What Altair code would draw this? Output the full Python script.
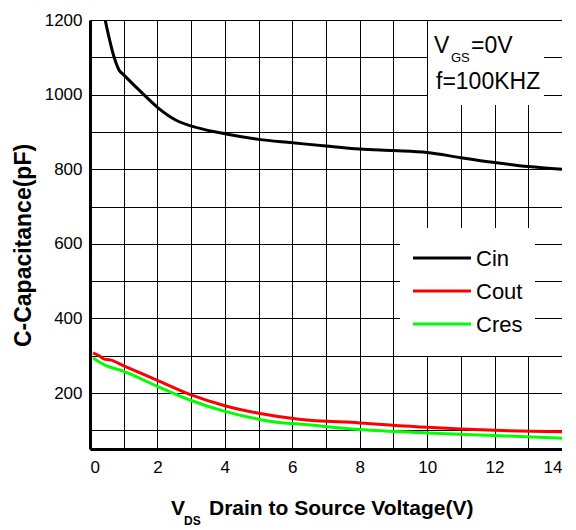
import altair as alt
import pandas as pd

# ---- data ----
cin_x = [0.45, 0.56, 0.71, 0.86, 1.0, 1.55, 2.0, 2.54, 3.23, 4.0, 5.0, 6.0, 7.0, 8.0, 9.0, 10.0, 11.0, 12.0, 13.0, 14.0]
cin_y = [1200, 1155, 1102, 1066, 1053, 1004, 966, 932, 910, 895, 880, 871, 862, 854, 850, 845, 831, 818, 807, 800]

cout_x = [0.09, 0.27, 0.42, 0.6, 1.0, 2.0, 3.0, 4.0, 5.0, 6.2, 8.0, 10.0, 12.0, 14.0]
cout_y = [308, 300, 291, 289, 273, 234, 195, 166, 146, 130, 120, 108, 100, 96]

cres_x = [0.09, 0.3, 0.45, 1.0, 2.0, 3.0, 4.0, 5.0, 5.6, 6.2, 8.0, 10.0, 12.0, 14.0]
cres_y = [294, 282, 275, 258, 218, 180, 151, 130, 121, 117, 102, 93, 86, 79]

series_names = ["Cin", "Cout", "Cres"]
series_colors = ["#000000", "#ff0000", "#00ff00"]

x_grid = list(range(0, 15))
y_grid = list(range(100, 1300, 100))

FONT = "Liberation Sans"

rows = []
for name, xs, ys in [("Cin", cin_x, cin_y), ("Cout", cout_x, cout_y), ("Cres", cres_x, cres_y)]:
    for i, (a, b) in enumerate(zip(xs, ys)):
        rows.append({"series": name, "v": a, "c": b, "order": i})
df = pd.DataFrame(rows)

x_scale = alt.Scale(domain=[0, 14], nice=False, zero=False)
y_scale = alt.Scale(domain=[50, 1200], nice=False, zero=False)
color_scale = alt.Scale(domain=series_names, range=series_colors)

lines = alt.Chart(df).mark_line(strokeWidth=3, interpolate="monotone", clip=True).encode(
    x=alt.X("v:Q", scale=x_scale,
            axis=alt.Axis(values=x_grid, title=None, grid=True, gridColor="#000000", gridWidth=1,
                          gridOpacity=1, ticks=False, domainColor="#000000", domainWidth=3,
                          format="d",
                          labelExpr="datum.value % 2 == 0 ? datum.label : ''",
                          labelFont=FONT, labelFontSize=17, labelColor="#000000", labelPadding=10)),
    y=alt.Y("c:Q", scale=y_scale,
            axis=alt.Axis(values=y_grid, title="C-Capacitance(pF)", grid=True, gridColor="#000000",
                          gridWidth=1, gridOpacity=1, ticks=False, domainColor="#000000", domainWidth=3,
                          format="d",
                          labelExpr="datum.value % 200 == 0 ? datum.label : ''",
                          labelFont=FONT, labelFontSize=17, labelColor="#000000", labelPadding=8,
                          titleFont=FONT, titleFontSize=23, titleFontWeight="bold", titleColor="#000000",
                          titleX=-60, titleY=225, titleAngle=270, titleAlign="center",
                          titleBaseline="alphabetic")),
    color=alt.Color("series:N", scale=color_scale, legend=None),
    order="order:Q",
)

one = pd.DataFrame({"k": [0]})

def rect(x1, x2, y1, y2):
    return alt.Chart(one).mark_rect(fill="#ffffff").encode(
        x=alt.value(x1), x2=alt.value(x2), y=alt.value(y1), y2=alt.value(y2))

def txt(text, x, y, size, weight="normal"):
    return alt.Chart(one).mark_text(text=text, font=FONT, fontSize=size, fontWeight=weight,
                                    align="left", baseline="alphabetic", color="#000000").encode(
        x=alt.value(x), y=alt.value(y))

# legend (manual, to match the compact layout)
legend_layers = [rect(310, 445, 208, 336)]
for i, (name, col) in enumerate(zip(series_names, series_colors)):
    yy = 238 + 33 * i
    legend_layers.append(
        alt.Chart(one).mark_rule(strokeWidth=3, color=col).encode(
            x=alt.value(323), x2=alt.value(381), y=alt.value(yy))
    )
    legend_layers.append(txt(name, 386, yy + 8, 22))

annot = [
    rect(338, 454, 1, 85),
    txt("V", 344, 33, 23),
    txt("GS", 361, 42, 13),
    txt("=0V", 381, 33, 23),
    txt("f=100KHZ", 346, 69, 23),
    txt("V", 81, 495, 21, "bold"),
    txt("DS", 94, 505, 12, "bold"),
    txt("Drain to Source Voltage(V)", 119, 495, 21, "bold"),
]

chart = alt.layer(lines, *legend_layers, *annot).properties(
    width=472, height=429,
    padding={"left": 4, "top": 3, "right": 0, "bottom": 0},
).configure_view(stroke="#000000", strokeWidth=3).configure(background="#ffffff")

chart.save("out.html", embed_options={"renderer": "svg", "actions": False})
